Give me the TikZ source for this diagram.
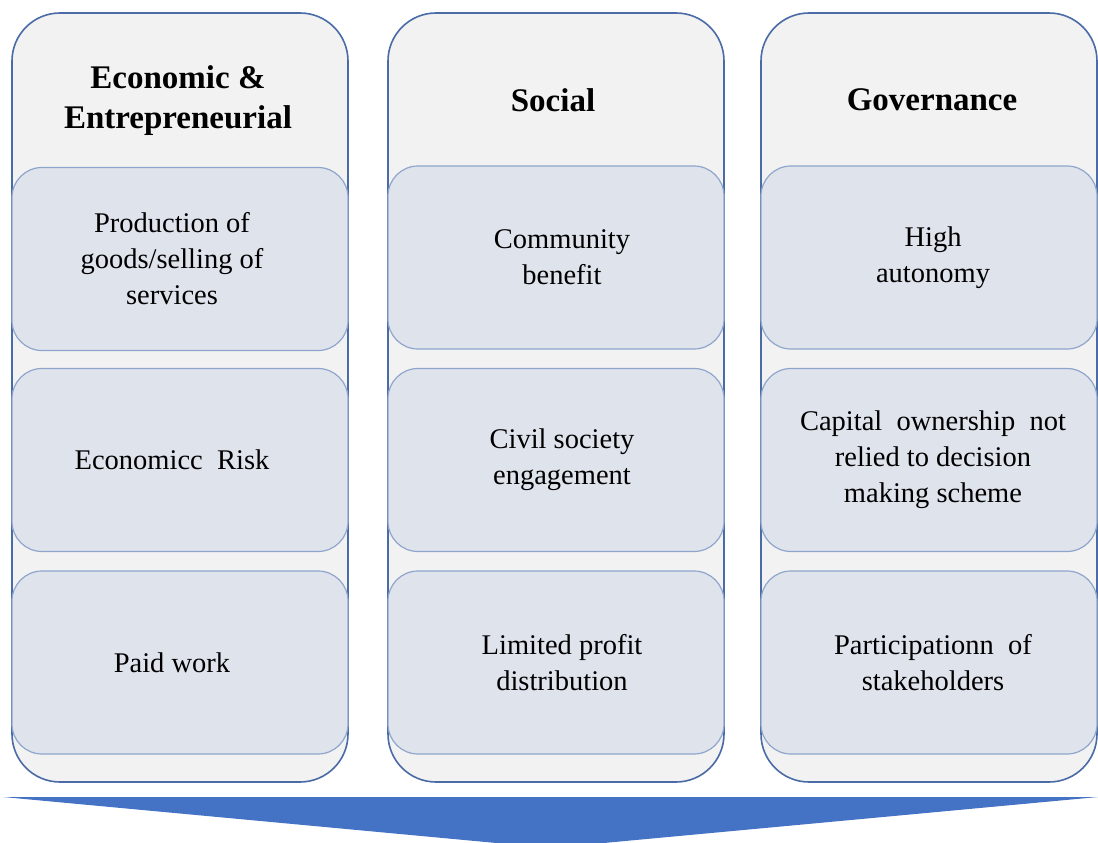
\documentclass[tikz,border=0pt]{standalone}
\usepackage{fontspec}
\setmainfont{Liberation Serif}
\usepackage{xcolor}

\definecolor{colborder}{HTML}{4A6BA6}
\definecolor{colfill}{HTML}{F2F2F2}
\definecolor{cellfill}{HTML}{DFE3EC}
\definecolor{cellborder}{HTML}{8FA6CC}
\definecolor{arrowblue}{HTML}{4472C4}

\begin{document}
\begin{tikzpicture}[x=1pt, y=-1pt,
    column/.style={draw=colborder, fill=colfill, line width=1.6pt, rounded corners=48pt,
                   minimum width=336pt, minimum height=769pt},
    cell/.style={draw=cellborder, fill=cellfill, line width=1.2pt, rounded corners=30pt,
                 minimum width=336pt, minimum height=183pt, align=center,
                 font=\fontsize{28.5}{36}\selectfont},
    title/.style={align=center, font=\fontsize{33}{40}\selectfont\bfseries}]
\useasboundingbox (0,0) rectangle (1098,843);

% Columns
\foreach \name/\x in {econ/180, social/556, gov/929} {
    \node[column] (\name) at (\x,397.5) {};
}

% Column titles
\node[title] (econ-title) at (178,101) {Economic \&\\Entrepreneurial};
\node[title] (social-title) at (553,100) {Social};
\node[title] (gov-title) at (932,100) {Governance};

% Economic & Entrepreneurial
\node[cell] (econ-1) at (180,259) {\hspace*{-16pt}Production of\\\hspace*{-16pt}goods/selling of\\\hspace*{-16pt}services};
\node[cell] (econ-2) at (180,460) {\hspace*{-16pt}Economicc\ \ Risk};
\node[cell] (econ-3) at (180,662.5) {\hspace*{-16pt}Paid work};

% Social
\node[cell] (social-1) at (556,257.5) {\hspace*{12pt}Community\\\hspace*{12pt}benefit};
\node[cell] (social-2) at (556,460) {\hspace*{12pt}Civil society\\\hspace*{12pt}engagement};
\node[cell] (social-3) at (556,662.5) {\hspace*{12pt}Limited profit\\\hspace*{12pt}distribution};

% Governance
\node[cell] (gov-1) at (929,257.5) {\hspace*{8pt}High\\\hspace*{8pt}autonomy};
\node[cell] (gov-2) at (929,460) {\hspace*{8pt}Capital\ \ ownership\ \ not\\\hspace*{8pt}relied to decision\\\hspace*{8pt}making scheme};
\node[cell] (gov-3) at (929,662.5) {\hspace*{8pt}Participationn\ \ of\\\hspace*{8pt}stakeholders};

% Arrow along the bottom
\coordinate (arrow-l) at (3,797);
\coordinate (arrow-r) at (1098,797);
\coordinate (arrow-tip) at (550,848);
\fill[arrowblue] (arrow-l) -- (arrow-r) -- (arrow-tip) -- cycle;
\end{tikzpicture}
\end{document}
